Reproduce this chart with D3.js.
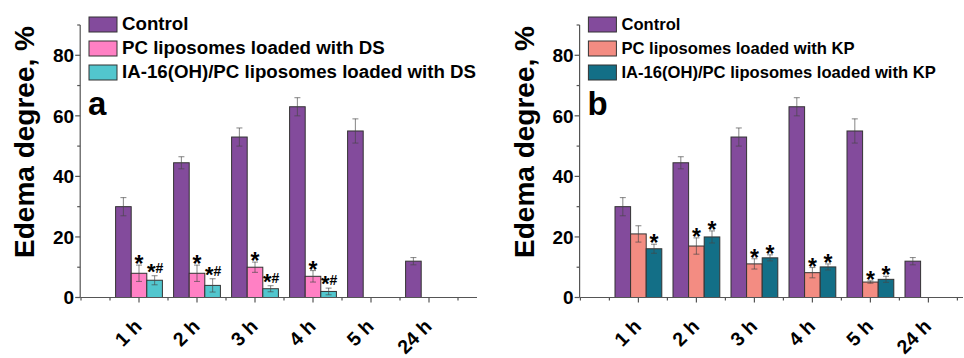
<!DOCTYPE html>
<html>
<head>
<meta charset="utf-8">
<script src="https://cdn.jsdelivr.net/npm/d3@7"></script>
<style>
  body { margin: 0; background: #fff; }
  svg text { font-family: "Liberation Sans", Arial, sans-serif; font-weight: bold; fill: #000; }
</style>
</head>
<body>
<div id="chart"></div>
<script>
// Edema degree over time, two panels (DS and KP formulations)
const categories = ['1 h', '2 h', '3 h', '4 h', '5 h', '24 h'];

const controlMean = [30, 44.5, 53, 63, 55, 12];
const controlErr  = [3, 2, 3, 3, 4, 1.2];

// panel a: DS
const dsPcMean  = [8, 8, 10, 7];
const dsPcErr   = [2.7, 2.7, 1.7, 1.9];
const dsPcMarks = ['*', '*', '*', '*'];
const dsIaMean  = [5.7, 4, 2.9, 2];
const dsIaErr   = [1.5, 2.2, 1, 1.1];
const dsIaMarks = ['*#', '*#', '*#', '*#'];

// panel b: KP
const kpPcMean  = [21, 17, 11.1, 8.2, 5.1];
const kpPcErr   = [2.7, 2.7, 1.7, 1.7, 0.4];
const kpPcMarks = ['', '*', '*', '*', '*'];
const kpIaMean  = [16.1, 20, 13.1, 10.1, 6];
const kpIaErr   = [1.5, 2, 1, 1, 1];
const kpIaMarks = ['*', '*', '*', '*', '*'];

const W = 964, H = 358;
const svg = d3.select('#chart').append('svg').attr('width', W).attr('height', H);

const y = d3.scaleLinear().domain([0, 90]).range([297.5, 25]);
const step = 58;
const barW = 15.6;

const panels = [
  {
    x0: 81, axisEnd: 477, letter: 'a', legendSize: 18.7,
    series: [
      {name: 'Control', color: '#834B9C', mean: controlMean, err: controlErr, marks: []},
      {name: 'PC liposomes loaded with DS', color: '#FF80C4', mean: dsPcMean, err: dsPcErr, marks: dsPcMarks},
      {name: 'IA-16(OH)/PC liposomes loaded with DS', color: '#52C6CE', mean: dsIaMean, err: dsIaErr, marks: dsIaMarks}
    ]
  },
  {
    x0: 580.4, axisEnd: 963, letter: 'b', legendSize: 16.6,
    series: [
      {name: 'Control', color: '#834B9C', mean: controlMean, err: controlErr, marks: []},
      {name: 'PC liposomes loaded with KP', color: '#F38C82', mean: kpPcMean, err: kpPcErr, marks: kpPcMarks},
      {name: 'IA-16(OH)/PC liposomes loaded with KP', color: '#136F87', mean: kpIaMean, err: kpIaErr, marks: kpIaMarks}
    ]
  }
];

panels.forEach(p => {
  const g = svg.append('g');
  const x = d3.scaleLinear().domain([0, 1]).range([p.x0, p.x0 + step]);
  const axisX = p.x0 - 0.8;

  // y axis label
  g.append('text')
    .attr('transform', `translate(${axisX - 46},142) rotate(-90)`)
    .attr('text-anchor', 'middle')
    .style('font-size', '28px')
    .text('Edema degree, %');

  // y axis
  g.append('line').attr('x1', axisX).attr('x2', axisX).attr('y1', y(90)).attr('y2', y(0))
    .attr('stroke', '#555').attr('stroke-width', 1.2);
  d3.range(0, 91, 10).forEach(v => {
    const major = v % 20 === 0;
    g.append('line').attr('x1', axisX).attr('x2', axisX - (major ? 5 : 3))
      .attr('y1', y(v)).attr('y2', y(v)).attr('stroke', '#555').attr('stroke-width', 1.2);
    if (major) {
      g.append('text').attr('x', axisX - 6).attr('y', y(v)).attr('dy', '0.36em')
        .attr('text-anchor', 'end').style('font-size', '19px').text(v);
    }
  });

  // bars
  p.series.forEach((s, si) => {
    s.mean.forEach((m, i) => {
      if (m == null) return;
      const cx = x(i + 1) + (si - 1) * barW;
      g.append('rect')
        .attr('x', cx - barW / 2).attr('y', y(m))
        .attr('width', barW).attr('height', y(0) - y(m))
        .attr('fill', s.color).attr('stroke', '#333').attr('stroke-width', 1);
      const e = s.err[i];
      const eg = g.append('g').attr('stroke', 'rgba(70,70,70,0.6)').attr('stroke-width', 1.1);
      eg.append('line').attr('x1', cx).attr('x2', cx).attr('y1', y(m + e)).attr('y2', y(m - e));
      eg.append('line').attr('x1', cx - 3).attr('x2', cx + 3).attr('y1', y(m + e)).attr('y2', y(m + e));
      eg.append('line').attr('x1', cx - 3).attr('x2', cx + 3).attr('y1', y(m - e)).attr('y2', y(m - e));
      const mark = s.marks[i];
      if (mark) {
        const top = y(m + e);
        if (mark === '*') {
          g.append('text').attr('x', cx).attr('y', top + 7).attr('text-anchor', 'middle')
            .style('font-size', '23px').text('*');
        } else {
          const t = g.append('text').attr('x', cx + 0.5).attr('y', top - 3).attr('text-anchor', 'middle');
          t.append('tspan').style('font-size', '22px').attr('dy', '6').text('*');
          t.append('tspan').style('font-size', '14px').attr('dy', '-6').text('#');
        }
      }
    });
  });

  // x axis
  g.append('line').attr('x1', axisX).attr('x2', p.axisEnd).attr('y1', y(0)).attr('y2', y(0))
    .attr('stroke', '#555').attr('stroke-width', 1.2);
  [0].concat(d3.range(0.5, 7, 1)).forEach(v => {
    if (x(v) > p.axisEnd) return;
    g.append('line').attr('x1', x(v)).attr('x2', x(v)).attr('y1', y(0)).attr('y2', y(0) + 3)
      .attr('stroke', '#555').attr('stroke-width', 1.2);
  });
  categories.forEach((c, i) => {
    const tx = x(i + 1);
    g.append('line').attr('x1', tx).attr('x2', tx).attr('y1', y(0)).attr('y2', y(0) + 5)
      .attr('stroke', '#555').attr('stroke-width', 1.2);
    g.append('text')
      .attr('transform', `translate(${tx + 4},${y(0) + 30}) rotate(-45)`)
      .attr('text-anchor', 'end')
      .style('font-size', '19.5px')
      .text(c);
  });

  // panel letter
  g.append('text').attr('x', p.x0 + 7).attr('y', 115).style('font-size', '33px').text(p.letter);

  // legend
  const lg = g.append('g').attr('transform', `translate(${p.x0 + 8},0)`);
  p.series.forEach((s, si) => {
    const ry = 17 + si * 24;
    lg.append('rect').attr('x', 0).attr('y', ry).attr('width', 28).attr('height', 15)
      .attr('fill', s.color).attr('stroke', '#333').attr('stroke-width', 1);
    lg.append('text').attr('x', 33).attr('y', ry + 12.5).style('font-size', p.legendSize + 'px').text(s.name);
  });
});
</script>
</body>
</html>
